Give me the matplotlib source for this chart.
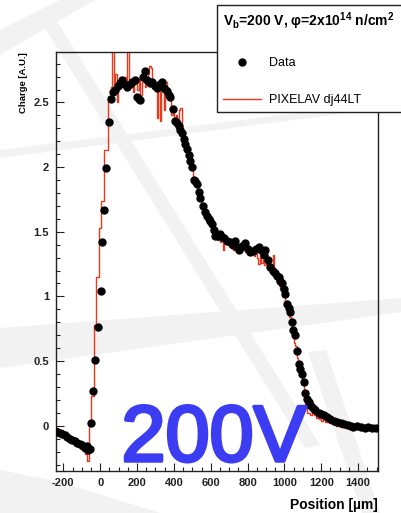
import matplotlib
matplotlib.use("Agg")
import matplotlib.pyplot as plt
import matplotlib.patheffects as pe
from matplotlib.patches import Polygon
from matplotlib.lines import Line2D

plt.rcParams["font.family"] = ["Liberation Sans", "DejaVu Sans"]
plt.rcParams["mathtext.fontset"] = "custom"
plt.rcParams["mathtext.rm"] = "Liberation Sans:bold"
plt.rcParams["mathtext.bf"] = "Liberation Sans:bold"

# measured charge profile (position in um, charge in arbitrary units)
pos_data = [
    -245, -232, -218, -205, -192, -178, -165, -152, -138, -125, -112, -99, -85, -72, -64, -56,
    -48, -38, -30, -12, 2, 9, 20, 33, 48,
    60, 72, 82, 95, 105, 118, 130, 145, 163, 175, 190, 199, 208, 217, 230, 245, 254, 268,
    281, 295, 308, 322, 335, 348, 362, 372, 380, 395, 408, 418, 426, 435, 444, 453, 462,
    471, 480, 489, 498, 507, 516, 525, 534, 543, 556, 570, 580, 588, 598, 607, 616, 625,
    640, 652, 661, 670, 688, 707, 720, 734, 743, 752, 770, 788, 800, 815, 830, 845, 860,
    875, 888, 897, 910, 924, 938, 951, 960, 969, 978, 987, 996, 1005, 1014, 1024, 1033,
    1040, 1047, 1060, 1069, 1078, 1087, 1096, 1105, 1114, 1123, 1132, 1141, 1150, 1159,
    1168, 1186, 1200, 1213, 1230, 1250, 1268, 1286, 1305, 1325, 1345, 1360, 1375, 1395,
    1415, 1435, 1455, 1475, 1495,
]
charge_data = [
    -0.04, -0.05, -0.06, -0.065, -0.07, -0.09, -0.10, -0.11, -0.12, -0.13, -0.14, -0.15, -0.17, -0.16, -0.19, -0.18,
    0.02, 0.27, 0.51, 0.76, 1.04, 1.42, 1.67, 1.99, 2.35,
    2.53, 2.58, 2.60, 2.63, 2.65, 2.67, 2.64, 2.62, 2.64, 2.66, 2.67, 2.54, 2.53, 2.52, 2.70, 2.74, 2.67, 2.65,
    2.66, 2.63, 2.61, 2.64, 2.66, 2.61, 2.59, 2.56, 2.54, 2.45, 2.36, 2.34, 2.32, 2.29, 2.26, 2.22, 2.18,
    2.14, 2.09, 2.05, 2.00, 1.90, 1.89, 1.87, 1.81, 1.76, 1.70, 1.65, 1.62, 1.60, 1.58, 1.56, 1.51, 1.47,
    1.47, 1.48, 1.46, 1.45, 1.43, 1.42, 1.40, 1.43, 1.38, 1.36, 1.39, 1.41, 1.37, 1.34, 1.35, 1.37, 1.38,
    1.36, 1.32, 1.36, 1.28, 1.23, 1.20, 1.18, 1.16, 1.15, 1.12, 1.10, 1.06, 1.02, 0.94, 0.91, 0.88,
    0.80, 0.74, 0.70, 0.58, 0.48, 0.44, 0.40, 0.34, 0.25, 0.21, 0.18, 0.16, 0.145, 0.13,
    0.12, 0.10, 0.09, 0.08, 0.065, 0.05, 0.04, 0.03, 0.02, 0.01, 0.005, 0.0, -0.01, -0.005,
    -0.01, -0.015, -0.01, -0.015, -0.017,
]

# PIXELAV simulation, step histogram (left bin edge, bin content)
sim_x = [
    -240, -228, -216, -204, -192, -180, -168, -156, -144, -132, -120, -108, -96, -84, -72,
    -60, -48, -36, -22, -5, 7, 22, 43,
    58, 66, 74, 82, 90, 98, 106, 114, 122, 130, 138, 146, 154, 162, 170, 178, 186, 194,
    202, 210, 218, 226, 234, 242, 250, 258, 266, 274, 282, 290, 298, 306, 314, 322, 330,
    338, 346, 354, 362, 370, 378, 386, 394, 402, 410, 418, 426, 434, 442, 450, 458, 466,
    474, 482, 490, 498, 506, 514, 522, 530, 538, 546, 554, 562, 570, 578, 586, 594, 602,
    610, 618, 626, 634, 642, 650, 658, 666, 674, 682, 690, 698, 706, 714, 722, 730, 738,
    746, 754, 762, 770, 778, 786, 794, 802, 810, 818, 826, 834, 842, 850, 858, 866, 874,
    882, 890, 898, 906, 914, 922, 930, 938, 946, 954, 962, 970, 978, 986, 994, 1002, 1010,
    1018, 1026, 1034, 1042, 1050, 1058, 1066, 1074, 1082, 1090, 1098, 1106, 1114, 1122,
    1130, 1140, 1150, 1160, 1170, 1180, 1190, 1200, 1210, 1220, 1230, 1240, 1250, 1260,
    1270, 1280, 1290, 1300, 1315, 1330, 1345, 1360, 1375, 1390, 1405, 1420, 1435, 1450,
    1465, 1480, 1495, 1508,
]
sim_charge = [
    -0.02, -0.05, -0.03, -0.07, -0.05, -0.10, -0.08, -0.12, -0.10, -0.15, -0.13, -0.18, -0.16, -0.22, -0.27,
    0.02, 0.23, 0.78, 1.15, 1.53, 1.74, 2.13, 2.55,
    2.62, 3.00, 2.60, 2.72, 2.50, 2.66, 2.70, 2.64, 2.62, 2.70, 2.60, 3.00, 2.68, 2.62, 2.66, 2.58, 2.68, 2.64,
    2.60, 2.68, 2.56, 2.66, 2.70, 2.62, 2.66, 2.72, 2.78, 2.77, 2.62, 2.66, 2.60, 2.38, 2.62, 2.36, 2.58,
    2.62, 2.44, 2.66, 2.62, 2.58, 2.54, 2.40, 2.42, 2.36, 2.40, 2.34, 2.44, 2.46, 2.24, 2.22, 2.16, 2.14,
    2.08, 2.06, 2.00, 1.98, 1.92, 1.90, 1.86, 1.82, 1.78, 1.74, 1.70, 1.64, 1.66, 1.60, 1.58, 1.56, 1.50,
    1.54, 1.46, 1.48, 1.44, 1.48, 1.42, 1.46, 1.36, 1.45, 1.42, 1.44, 1.38, 1.42, 1.40, 1.36, 1.42, 1.38,
    1.40, 1.35, 1.38, 1.36, 1.40, 1.34, 1.37, 1.33, 1.36, 1.32, 1.35, 1.31, 1.33, 1.30, 1.25, 1.32, 1.26,
    1.28, 1.24, 1.30, 1.22, 1.24, 1.20, 1.24, 1.32, 1.16, 1.14, 1.10, 1.12, 1.06, 1.04, 1.00, 0.96, 0.92,
    0.90, 0.84, 0.80, 0.72, 0.64, 0.62, 0.52, 0.46, 0.42, 0.38, 0.32, 0.22, 0.14, 0.10,
    0.10, 0.08, 0.10, 0.08, 0.06, 0.08, 0.05, 0.04, 0.06, 0.03, 0.04, 0.02, 0.03, 0.01,
    0.02, 0.00, 0.01, -0.01, 0.00, -0.02, 0.00, -0.01, -0.02, 0.00, -0.01, -0.02, 0.00, -0.02,
    -0.01, -0.02, -0.01, -0.01,
]

x_ticks = [-200, 0, 200, 400, 600, 800, 1000, 1200, 1400]
x_tick_labels = ["-200", "0", "200", "400", "600", "800", "1000", "1200", "1400"]
y_ticks = [0, 0.5, 1, 1.5, 2, 2.5]
y_tick_labels = ["0", "0.5", "1", "1.5", "2", "2.5"]

W, H = 402, 513
fig = plt.figure(figsize=(W / 100, H / 100), dpi=100)

# faint grey stripes of the slide background
bands = [
    [(0, 30), (60, 0), (95, 0), (0, 55)],
    [(35, 12), (50, 10), (320, 445), (305, 448)],
    [(0, 328), (402, 298), (402, 312), (0, 368)],
    [(0, 150), (402, 100), (402, 106), (0, 158)],
    [(308, 352), (326, 350), (380, 513), (362, 513)],
    [(0, 470), (60, 482), (160, 513), (0, 513)],
]
for b in bands:
    poly = Polygon([(x / W, 1 - y / H) for x, y in b], closed=True,
                   transform=fig.transFigure, facecolor="#f2f2f2",
                   edgecolor="none", zorder=-5)
    fig.patches.append(poly)

ax = fig.add_axes([56 / W, 1 - 471 / H, 322 / W, 419 / H])
ax.patch.set_alpha(0)

ax.step(sim_x, sim_charge, where="post", color="#e8381e", lw=1.0, zorder=2)
ax.plot(pos_data, charge_data, "o", color="black", ms=5, zorder=3)

ax.set_xlim(-240, 1508)
ax.set_ylim(-0.35, 2.89)
ax.set_xticks(x_ticks)
ax.set_xticklabels(x_tick_labels)
ax.set_yticks(y_ticks)
ax.set_yticklabels(y_tick_labels)
ax.set_xticks(range(-200, 1501, 50), minor=True)
ax.set_yticks([-0.3 + 0.1 * i for i in range(32)], minor=True)
ax.tick_params(which="both", direction="in", top=False, right=False,
               labelsize=8, width=0.8, colors="#222222", pad=5)
ax.tick_params(which="major", length=6)
ax.tick_params(which="minor", length=3)
for lab in ax.get_xticklabels() + ax.get_yticklabels():
    lab.set_fontweight("bold")
for s in ax.spines.values():
    s.set_linewidth(1.0)
    s.set_color("#222222")

ax.set_xlabel("Position [µm]", loc="right", fontsize=10, fontweight="bold", labelpad=7)
ax.set_ylabel("Charge [A.U.]", loc="top", fontsize=6.8, fontweight="bold")
ax.yaxis.set_label_coords(-0.088, 1.0)

handles = [
    Line2D([], [], ls="none", marker="o", color="black", ms=5),
    Line2D([], [], color="#e8381e", lw=1.0),
]
leg = fig.legend(handles, ["Data", "PIXELAV dj44LT"],
                 title="V$_{\\rm b}$=200 V, φ=2x10$^{\\rm 14}$ n/cm$^{\\rm 2}$   ",
                 loc="upper left", bbox_to_anchor=(217 / W, 1 - 5 / H),
                 borderaxespad=0, fontsize=9, title_fontsize=10,
                 alignment="left", frameon=True, fancybox=False,
                 edgecolor="#222222", framealpha=1, borderpad=0.45,
                 labelspacing=2.0, handlelength=3.1, handletextpad=0.6)
leg.get_title().set_fontweight("bold")
leg.get_frame().set_linewidth(1.0)
leg.set_zorder(10)

fig.text(214 / W, 1 - 461 / H, "200V", fontsize=57, color="#3c3cf2",
         ha="center", va="baseline", zorder=20,
         path_effects=[pe.withStroke(linewidth=2.5, foreground="#3c3cf2",
                                     capstyle="round", joinstyle="round")])

fig.savefig("out.png", dpi=100)
